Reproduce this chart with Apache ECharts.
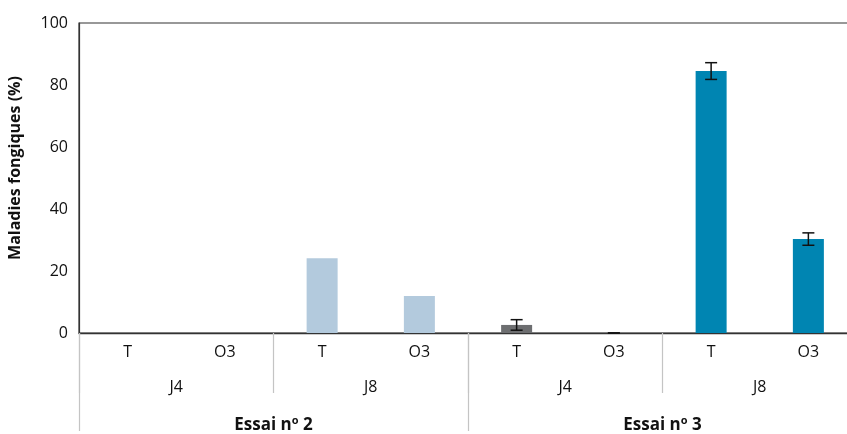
<!DOCTYPE html>
<html><head><meta charset="utf-8">
<script src="https://cdn.jsdelivr.net/npm/echarts@6/dist/echarts.min.js"></script>
<style>html,body{margin:0;padding:0;background:#fff}#c{width:847px;height:434px}</style>
</head><body><div id="c"></div>
<script>
const categories = ['T','O3','T','O3','T','O3','T','O3'];
const days = ['J4','J8','J4','J8'];
const trials = ['Essai nº 2','Essai nº 3'];
const values = [0, 0, 24.1, 11.9, 2.6, 0, 84.5, 30.3];
const errors = [null, null, null, null, 1.7, 0.001, 2.7, 2.0];
const yTicks = [0, 20, 40, 60, 80, 100];
const colors = ['#b3cadd','#b3cadd','#b3cadd','#b3cadd','#6d6e70','#6d6e70','#0085b2','#0085b2'];

const FONT = '"Open Sans", sans-serif';
const chart = echarts.init(document.getElementById('c'));
chart.setOption({
  animation: false,
  grid: {left: 79, top: 23, width: 778, height: 310, show: true, borderColor: '#333', borderWidth: 1.2,
         backgroundColor: 'transparent', outerBoundsMode: 'none', containLabel: false},
  xAxis: [
    {type: 'category', data: categories, position: 'bottom',
     axisLine: {show: true, lineStyle: {color: '#333', width: 1.4}},
     axisTick: {show: false},
     axisLabel: {margin: 11, fontSize: 16, color: '#111', fontFamily: FONT}},
    {type: 'category', data: days, position: 'bottom', gridIndex: 0,
     axisLine: {show: false},
     axisTick: {show: true, length: 60, lineStyle: {color: '#c4c4c4', width: 1.2}},
     axisLabel: {margin: 46, fontSize: 16, color: '#111', fontFamily: FONT}},
    {type: 'category', data: trials, position: 'bottom', gridIndex: 0,
     axisLine: {show: false},
     axisTick: {show: true, length: 98, lineStyle: {color: '#c4c4c4', width: 1.2}},
     axisLabel: {margin: 82, fontSize: 17, fontWeight: 'bold', color: '#111', fontFamily: FONT,
       formatter: v => v.replace('º', '{sup|o}'),
       rich: {sup: {fontSize: 11, fontWeight: 'bold', verticalAlign: 'top', lineHeight: 20, color: '#111', fontFamily: FONT}}}}
  ],
  yAxis: {
    type: 'value', min: 0, max: 100, interval: 20,
    name: 'Maladies fongiques (%)', nameLocation: 'middle', nameGap: 56, nameRotate: 90,
    nameTextStyle: {fontSize: 16, fontWeight: 'bold', color: '#111', fontFamily: FONT, padding: [0, 0, 0, 20]},
    axisLine: {show: true, lineStyle: {color: '#333', width: 1.2}},
    axisTick: {show: false},
    splitLine: {show: false},
    axisLabel: {margin: 11, fontSize: 16, color: '#111', fontFamily: FONT,
      formatter: v => yTicks.includes(v) ? String(v) : ''}
  },
  series: [
    {type: 'bar', xAxisIndex: 0, barWidth: 31,
     data: values.map((v, i) => ({value: v, itemStyle: {color: colors[i]}}))},
    {type: 'custom', xAxisIndex: 0, z: 10,
     data: values.map((v, i) => [i, v, errors[i]]),
     renderItem: (params, api) => {
       const e = api.value(2);
       if (e === null || e === undefined || isNaN(e) || e === '-') return null;
       const x = api.value(0), v = api.value(1);
       const hi = api.coord([x, v + e]);
       const lo = api.coord([x, Math.max(0, v - e)]);
       const w = 6;
       const st = {stroke: '#111', lineWidth: 1.5};
       return {type: 'group', children: [
         {type: 'line', shape: {x1: hi[0], y1: hi[1], x2: lo[0], y2: lo[1]}, style: st},
         {type: 'line', shape: {x1: hi[0]-w, y1: hi[1], x2: hi[0]+w, y2: hi[1]}, style: st},
         {type: 'line', shape: {x1: lo[0]-w, y1: lo[1], x2: lo[0]+w, y2: lo[1]}, style: st}
       ]};
     }}
  ]
});
</script></body></html>
